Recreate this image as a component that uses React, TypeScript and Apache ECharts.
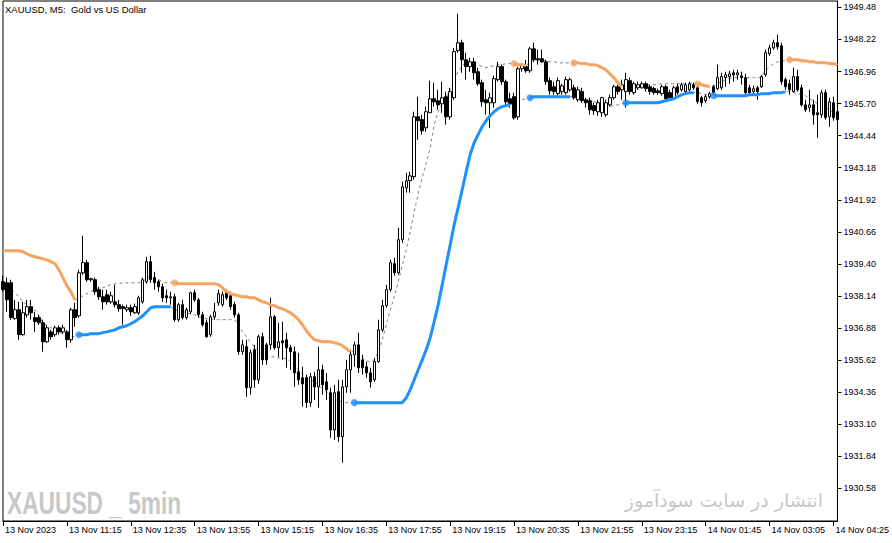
import React, { useEffect, useRef } from "react";
import * as echarts from "echarts";

// ---- Data (XAUUSD M5, 13 Nov 09:55 -> 14 Nov 04:30) ----
const opens = [
  1938.70, 1938.66, 1938.66, 1937.25, 1937.60, 1936.62, 1937.40, 1937.72, 1937.29, 1937.29,
  1937.09, 1936.34, 1936.73, 1936.62, 1936.89, 1936.73, 1936.73, 1936.42, 1937.60, 1937.36,
  1939.05, 1939.45, 1938.78, 1938.78, 1938.39, 1938.11, 1938.19, 1937.91, 1937.91, 1937.80,
  1937.72, 1937.60, 1937.68, 1937.48, 1937.48, 1937.91, 1938.70, 1939.49, 1938.86, 1938.70,
  1938.50, 1938.15, 1938.07, 1938.11, 1937.21, 1937.80, 1937.29, 1937.52, 1938.27, 1937.99,
  1937.40, 1937.09, 1936.62, 1937.32, 1937.87, 1937.80, 1938.27, 1938.15, 1937.80, 1937.40,
  1935.95, 1936.15, 1934.54, 1936.03, 1934.85, 1936.54, 1936.22, 1936.22, 1937.32, 1936.11,
  1936.38, 1936.42, 1936.11, 1935.95, 1935.16, 1934.93, 1934.93, 1933.95, 1934.97, 1934.57,
  1935.24, 1934.77, 1934.34, 1932.88, 1934.38, 1932.61, 1934.57, 1935.24, 1935.83, 1936.22,
  1935.63, 1935.36, 1935.12, 1934.85, 1935.56, 1936.81, 1937.76, 1938.39, 1939.41, 1939.05,
  1940.35, 1942.39, 1942.67, 1942.83, 1945.18, 1945.07, 1944.75, 1945.34, 1945.89, 1945.81,
  1945.69, 1945.97, 1945.18, 1945.93, 1947.78, 1948.09, 1947.42, 1947.15, 1947.34, 1946.95,
  1946.52, 1945.85, 1945.73, 1945.73, 1946.64, 1947.15, 1946.56, 1945.89, 1945.97, 1945.18,
  1947.07, 1947.15, 1946.99, 1947.85, 1947.46, 1947.46, 1947.34, 1946.60, 1946.36, 1946.09,
  1946.17, 1946.13, 1946.24, 1946.32, 1945.85, 1946.17, 1945.85, 1945.81, 1945.62, 1945.38,
  1945.34, 1945.26, 1945.65, 1945.93, 1946.36, 1946.24, 1946.17, 1946.60, 1946.13, 1946.32,
  1946.32, 1946.48, 1946.36, 1946.29, 1946.20, 1946.09, 1946.36, 1946.13, 1945.93, 1946.36,
  1946.24, 1946.17, 1946.24, 1946.44, 1946.32, 1945.93, 1945.81, 1945.97, 1946.36, 1946.28,
  1946.32, 1946.72, 1946.76, 1946.91, 1946.83, 1946.79, 1946.72, 1946.32, 1946.17, 1946.32,
  1946.36, 1946.83, 1947.66, 1947.89, 1948.09, 1947.97, 1946.64, 1946.48, 1946.17, 1946.76,
  1946.32, 1945.65, 1945.54, 1945.65, 1945.34, 1945.26, 1946.13, 1945.18, 1945.73, 1945.38,
];
const closes = [
  1938.39, 1937.99, 1937.29, 1937.60, 1936.62, 1937.48, 1937.72, 1937.48, 1937.13, 1937.09,
  1936.34, 1936.89, 1936.54, 1936.89, 1936.73, 1936.89, 1936.42, 1937.60, 1937.29, 1939.05,
  1939.45, 1938.78, 1938.82, 1938.31, 1938.11, 1937.91, 1937.91, 1938.15, 1937.80, 1937.64,
  1937.64, 1937.68, 1937.52, 1937.72, 1938.07, 1938.78, 1939.49, 1938.78, 1938.66, 1938.50,
  1938.07, 1938.07, 1938.11, 1937.21, 1937.80, 1937.29, 1937.60, 1938.27, 1937.99, 1937.40,
  1937.01, 1936.54, 1937.32, 1937.52, 1938.23, 1938.19, 1938.07, 1937.72, 1937.40, 1935.95,
  1936.22, 1934.54, 1935.91, 1934.85, 1936.54, 1935.63, 1935.63, 1937.32, 1936.11, 1936.34,
  1936.30, 1936.11, 1935.95, 1935.12, 1934.85, 1934.69, 1933.95, 1934.97, 1934.57, 1935.24,
  1934.65, 1934.46, 1932.88, 1934.34, 1932.61, 1934.57, 1935.24, 1935.83, 1936.22, 1935.32,
  1935.32, 1935.12, 1934.77, 1935.56, 1936.81, 1937.76, 1938.39, 1939.45, 1939.05, 1940.35,
  1942.43, 1942.67, 1942.86, 1945.18, 1945.03, 1944.63, 1945.38, 1945.89, 1945.77, 1945.65,
  1945.93, 1945.18, 1946.17, 1947.74, 1948.09, 1947.42, 1947.15, 1947.34, 1946.91, 1946.48,
  1945.77, 1945.73, 1945.93, 1946.68, 1947.15, 1946.56, 1945.77, 1945.69, 1945.14, 1947.07,
  1947.19, 1946.99, 1947.85, 1947.42, 1947.42, 1947.34, 1946.56, 1946.20, 1946.17, 1946.60,
  1946.40, 1946.64, 1946.64, 1945.93, 1946.24, 1945.81, 1945.73, 1945.46, 1945.42, 1945.73,
  1945.93, 1945.73, 1945.93, 1946.36, 1946.17, 1946.44, 1946.64, 1946.17, 1946.48, 1946.44,
  1946.48, 1946.29, 1946.17, 1946.13, 1946.13, 1946.36, 1945.89, 1945.93, 1946.32, 1946.13,
  1946.44, 1946.44, 1946.48, 1946.32, 1945.77, 1945.73, 1945.97, 1946.09, 1946.13, 1946.72,
  1946.76, 1946.83, 1946.87, 1946.83, 1946.91, 1946.72, 1946.13, 1946.13, 1946.28, 1946.17,
  1946.76, 1947.70, 1947.89, 1948.09, 1947.93, 1946.56, 1946.36, 1946.24, 1946.76, 1946.24,
  1945.65, 1945.46, 1945.65, 1945.26, 1945.26, 1946.13, 1945.14, 1945.77, 1945.14, 1945.07,
];
const highs = [
  1938.94, 1938.86, 1938.78, 1937.99, 1937.91, 1937.91, 1937.99, 1937.99, 1937.52, 1937.40,
  1937.21, 1937.01, 1936.81, 1936.97, 1936.97, 1937.01, 1936.81, 1937.68, 1937.87, 1939.17,
  1940.51, 1939.56, 1938.86, 1938.86, 1938.50, 1938.39, 1938.39, 1938.31, 1938.58, 1937.99,
  1937.80, 1937.80, 1937.80, 1937.84, 1938.15, 1938.86, 1939.68, 1939.72, 1939.09, 1938.78,
  1938.62, 1938.39, 1938.31, 1938.23, 1937.87, 1937.99, 1937.68, 1938.31, 1938.39, 1938.07,
  1937.52, 1937.21, 1937.40, 1937.87, 1938.39, 1938.31, 1938.39, 1938.31, 1937.91, 1937.48,
  1936.42, 1936.42, 1936.03, 1936.22, 1936.62, 1936.70, 1936.30, 1938.07, 1937.40, 1937.09,
  1937.13, 1936.70, 1936.22, 1936.15, 1935.91, 1935.36, 1935.05, 1935.12, 1935.16, 1936.15,
  1935.44, 1935.12, 1934.54, 1934.65, 1934.85, 1934.85, 1935.63, 1936.03, 1936.34, 1936.70,
  1935.83, 1935.56, 1935.32, 1935.71, 1937.21, 1937.99, 1938.58, 1939.56, 1939.64, 1940.82,
  1942.63, 1942.98, 1943.02, 1945.38, 1945.97, 1945.26, 1945.58, 1946.60, 1946.52, 1946.24,
  1946.56, 1946.17, 1946.32, 1947.89, 1949.23, 1948.21, 1947.70, 1947.50, 1947.50, 1947.11,
  1946.64, 1946.24, 1946.13, 1946.80, 1947.34, 1947.23, 1946.64, 1946.13, 1946.13, 1947.15,
  1947.27, 1947.42, 1947.93, 1948.09, 1947.82, 1947.82, 1947.42, 1946.72, 1946.56, 1946.72,
  1946.48, 1946.76, 1946.72, 1946.44, 1946.36, 1946.32, 1945.93, 1945.93, 1945.73, 1945.85,
  1945.97, 1945.85, 1946.05, 1946.44, 1946.44, 1946.64, 1946.91, 1946.72, 1946.56, 1946.56,
  1946.56, 1946.56, 1946.44, 1946.36, 1946.29, 1946.44, 1946.44, 1946.24, 1946.40, 1946.48,
  1946.52, 1946.52, 1946.56, 1946.52, 1946.40, 1946.01, 1946.05, 1946.17, 1946.44, 1947.23,
  1946.91, 1946.95, 1946.99, 1947.03, 1947.03, 1946.95, 1946.87, 1946.44, 1946.40, 1946.40,
  1946.83, 1947.82, 1948.01, 1948.21, 1948.41, 1948.09, 1946.72, 1946.64, 1947.11, 1947.03,
  1946.44, 1945.85, 1946.24, 1945.85, 1946.05, 1946.24, 1946.24, 1945.93, 1945.97, 1945.54,
];
const lows = [
  1938.31, 1937.52, 1937.21, 1937.21, 1936.42, 1936.58, 1937.29, 1937.21, 1936.73, 1937.01,
  1935.95, 1936.30, 1936.42, 1936.54, 1936.62, 1936.66, 1936.11, 1936.30, 1936.93, 1937.29,
  1938.98, 1938.70, 1938.70, 1938.19, 1937.99, 1937.60, 1937.80, 1937.84, 1937.68, 1937.52,
  1937.01, 1937.52, 1937.36, 1937.44, 1937.40, 1937.84, 1938.62, 1938.66, 1938.39, 1938.31,
  1937.91, 1937.87, 1937.80, 1937.13, 1937.13, 1937.21, 1937.21, 1937.44, 1937.91, 1937.29,
  1936.93, 1936.50, 1936.54, 1937.21, 1937.76, 1937.72, 1937.99, 1937.60, 1937.29, 1935.83,
  1935.83, 1934.18, 1934.26, 1934.54, 1934.69, 1935.44, 1935.44, 1936.03, 1936.03, 1935.75,
  1935.63, 1935.32, 1935.24, 1934.57, 1934.65, 1933.79, 1933.75, 1933.79, 1934.06, 1933.75,
  1934.26, 1934.06, 1932.57, 1932.49, 1932.41, 1931.59, 1934.34, 1934.34, 1935.36, 1935.12,
  1935.05, 1934.93, 1934.54, 1934.77, 1935.52, 1936.73, 1937.68, 1938.31, 1938.94, 1938.98,
  1940.23, 1942.20, 1942.20, 1942.71, 1944.28, 1944.48, 1944.59, 1945.34, 1945.58, 1945.46,
  1945.34, 1944.87, 1945.07, 1945.85, 1947.70, 1946.91, 1946.64, 1946.95, 1946.64, 1946.40,
  1945.58, 1945.26, 1944.75, 1945.54, 1946.56, 1946.44, 1945.65, 1945.54, 1945.07, 1945.07,
  1946.95, 1946.91, 1946.91, 1947.34, 1947.23, 1947.30, 1946.44, 1946.05, 1946.05, 1946.01,
  1946.05, 1946.05, 1946.17, 1945.85, 1945.77, 1945.73, 1945.54, 1945.26, 1945.26, 1945.22,
  1945.18, 1945.18, 1945.58, 1945.85, 1946.05, 1945.85, 1945.54, 1946.05, 1946.05, 1946.24,
  1946.29, 1946.17, 1946.05, 1946.05, 1946.05, 1946.01, 1945.81, 1945.85, 1945.85, 1946.05,
  1946.17, 1946.09, 1946.17, 1946.24, 1945.69, 1945.58, 1945.73, 1945.89, 1946.05, 1946.24,
  1946.24, 1946.36, 1946.48, 1946.56, 1946.64, 1946.44, 1946.05, 1946.05, 1946.05, 1945.85,
  1946.32, 1946.76, 1947.58, 1947.82, 1947.82, 1946.44, 1946.24, 1946.05, 1946.13, 1946.17,
  1945.58, 1945.38, 1945.38, 1944.87, 1944.36, 1945.14, 1945.07, 1944.79, 1945.03, 1944.99,
];
// Indicator bands (upper = resistance line, lower = support line)
const upperBand = [
  1939.92, 1939.92, 1939.92, 1939.92, 1939.92, 1939.88, 1939.80, 1939.72, 1939.68, 1939.64,
  1939.60, 1939.56, 1939.49, 1939.41, 1939.17, 1938.86, 1938.54, 1938.31, 1937.99, 1938.03,
  1938.15, 1938.23, 1938.31, 1938.39, 1938.42, 1938.46, 1938.54, 1938.58, 1938.62, 1938.62,
  1938.66, 1938.66, 1938.66, 1938.66, 1938.66, 1938.70, 1938.86, 1938.90, 1938.86, 1938.78,
  1938.70, 1938.66, 1938.66, 1938.66, 1938.62, 1938.62, 1938.62, 1938.62, 1938.62, 1938.62,
  1938.62, 1938.62, 1938.62, 1938.62, 1938.58, 1938.46, 1938.31, 1938.23, 1938.19, 1938.15,
  1938.11, 1938.11, 1938.07, 1938.07, 1937.99, 1937.91, 1937.87, 1937.80, 1937.76, 1937.68,
  1937.64, 1937.56, 1937.48, 1937.36, 1937.21, 1937.01, 1936.77, 1936.58, 1936.42, 1936.38,
  1936.34, 1936.34, 1936.34, 1936.30, 1936.26, 1936.19, 1936.07, 1935.95, 1935.95, 1935.83,
  1935.71, 1935.59, 1935.56, 1935.63, 1935.95, 1936.42, 1937.01, 1937.60, 1938.11, 1938.70,
  1939.33, 1939.96, 1940.66, 1941.45, 1942.16, 1942.79, 1943.38, 1943.96, 1944.87, 1945.38,
  1945.69, 1945.97, 1946.24, 1946.64, 1946.95, 1947.19, 1947.34, 1947.34, 1947.30, 1947.23,
  1947.15, 1947.11, 1947.15, 1947.19, 1947.23, 1947.23, 1947.27, 1947.27, 1947.27, 1947.23,
  1947.23, 1947.19, 1947.34, 1947.38, 1947.42, 1947.42, 1947.38, 1947.34, 1947.34, 1947.30,
  1947.30, 1947.30, 1947.30, 1947.30, 1947.30, 1947.27, 1947.27, 1947.23, 1947.23, 1947.19,
  1947.11, 1947.03, 1946.87, 1946.72, 1946.52, 1946.36, 1946.40, 1946.40, 1946.40, 1946.40,
  1946.44, 1946.44, 1946.44, 1946.44, 1946.44, 1946.48, 1946.48, 1946.48, 1946.48, 1946.48,
  1946.48, 1946.48, 1946.48, 1946.48, 1946.48, 1946.44, 1946.40, 1946.36, 1946.40, 1946.48,
  1946.56, 1946.64, 1946.68, 1946.72, 1946.72, 1946.72, 1946.72, 1946.72, 1946.72, 1946.68,
  1946.79, 1946.99, 1947.15, 1947.27, 1947.34, 1947.38, 1947.38, 1947.42, 1947.42, 1947.42,
  1947.38, 1947.38, 1947.34, 1947.34, 1947.30, 1947.30, 1947.30, 1947.27, 1947.27, 1947.23,
];
const lowerBand = [
  1938.70, 1938.54, 1938.42, 1938.27, 1938.11, 1937.91, 1937.80, 1937.68, 1937.60, 1937.36,
  1937.09, 1936.97, 1936.89, 1936.81, 1936.73, 1936.66, 1936.58, 1936.54, 1936.54, 1936.62,
  1936.62, 1936.62, 1936.66, 1936.66, 1936.66, 1936.70, 1936.73, 1936.77, 1936.81, 1936.89,
  1936.93, 1936.97, 1937.05, 1937.13, 1937.25, 1937.36, 1937.52, 1937.68, 1937.72, 1937.72,
  1937.72, 1937.72, 1937.72, 1937.60, 1937.56, 1937.52, 1937.48, 1937.44, 1937.40, 1937.32,
  1937.29, 1937.25, 1937.25, 1937.21, 1937.21, 1937.21, 1937.21, 1937.21, 1937.21, 1936.97,
  1936.73, 1936.54, 1936.30, 1936.15, 1935.99, 1935.83, 1935.79, 1935.75, 1935.75, 1935.71,
  1935.71, 1935.67, 1935.59, 1935.44, 1935.24, 1935.08, 1934.97, 1934.85, 1934.77, 1934.65,
  1934.50, 1934.38, 1934.22, 1934.10, 1934.02, 1933.98, 1933.95, 1933.95, 1933.95, 1933.95,
  1933.95, 1933.95, 1933.95, 1933.95, 1933.95, 1933.95, 1933.95, 1933.95, 1933.95, 1933.95,
  1933.95, 1934.14, 1934.46, 1934.85, 1935.24, 1935.63, 1936.03, 1936.50, 1937.13, 1937.80,
  1938.58, 1939.37, 1940.15, 1940.94, 1941.61, 1942.31, 1943.02, 1943.69, 1944.16, 1944.48,
  1944.79, 1945.03, 1945.22, 1945.38, 1945.50, 1945.58, 1945.62, 1945.65, 1945.69, 1945.77,
  1945.85, 1945.89, 1945.93, 1945.97, 1945.97, 1945.97, 1945.97, 1945.97, 1945.97, 1945.97,
  1945.97, 1945.97, 1945.97, 1945.97, 1945.93, 1945.89, 1945.85, 1945.81, 1945.77, 1945.73,
  1945.69, 1945.62, 1945.58, 1945.62, 1945.65, 1945.69, 1945.73, 1945.73, 1945.73, 1945.73,
  1945.73, 1945.73, 1945.73, 1945.73, 1945.73, 1945.77, 1945.81, 1945.85, 1945.89, 1945.97,
  1946.05, 1946.09, 1946.13, 1946.13, 1946.13, 1946.09, 1946.05, 1946.01, 1946.01, 1946.01,
  1946.01, 1946.01, 1946.01, 1946.01, 1946.01, 1946.01, 1946.01, 1946.05, 1946.05, 1946.05,
  1946.09, 1946.09, 1946.09, 1946.13, 1946.13, 1946.13, 1946.17, 1946.17, 1946.13, 1946.09,
  1946.05, 1946.01, 1945.89, 1945.81, 1945.69, 1945.62, 1945.54, 1945.46, 1945.34, 1945.26,
];
// Trend segments: first bar index of each segment and direction (-1 = down, 1 = up)
const trendStarts = [0, 19, 43, 88, 128, 132, 143, 156, 174, 178, 197];
const trendDirs = [-1, 1, -1, 1, -1, 1, -1, 1, -1, 1, -1];

// Axis ticks / labels
const priceTicks = [
  1930.58, 1931.84, 1933.1, 1934.36, 1935.62, 1936.88, 1938.14, 1939.4,
  1940.66, 1941.92, 1943.18, 1944.44, 1945.7, 1946.96, 1948.22, 1949.48,
];
const Y_MIN = 1929.3;
const Y_MAX = 1949.73;
const sessions = [
  { day: "13 Nov", startMinute: 9 * 60 + 55, bars: 169 },
  { day: "14 Nov", startMinute: 1 * 60 + 10, bars: 41 },
];
const firstLabel = "13 Nov 2023";
const labelEvery = 16;
const titleText = "XAUUSD, M5:  Gold vs US Dollar";
const watermarkLeft = "XAUUSD _ 5min";
const watermarkRight = "انتشار در سایت سودآموز";

const ORANGE = "#F4A460";
const BLUE = "#1E90FF";

function pad(n: number) {
  return n < 10 ? "0" + n : String(n);
}

export default function App() {
  const ref = useRef<HTMLDivElement>(null);

  useEffect(() => {
    if (!ref.current) return;
    const chart = echarts.init(ref.current, null, { renderer: "svg" });

    const times: string[] = [];
    sessions.forEach((s) => {
      for (let k = 0; k < s.bars; k++) {
        const m = s.startMinute + 5 * k;
        times.push(`${s.day} ${pad(Math.floor(m / 60) % 24)}:${pad(m % 60)}`);
      }
    });

    const n = opens.length;
    const dir: number[] = new Array(n).fill(0);
    trendStarts.forEach((s, k) => {
      const e = k + 1 < trendStarts.length ? trendStarts[k + 1] : n;
      for (let i = s; i < e; i++) dir[i] = trendDirs[k];
    });

    const candles = opens.map((o, i) => [o, closes[i], lows[i], highs[i]]);
    const orangeLine = upperBand.map((v, i) => (dir[i] === -1 ? v : null));
    const blueLine = lowerBand.map((v, i) => (dir[i] === 1 ? v : null));
    const orangeDots: number[][] = [];
    const blueDots: number[][] = [];
    trendStarts.forEach((s, k) => {
      if (s === 0) return;
      if (trendDirs[k] === -1) orangeDots.push([s, upperBand[s]]);
      else blueDots.push([s, lowerBand[s]]);
    });

    const axisFont = { color: "#000", fontFamily: "Liberation Sans", fontSize: 9 };
    const showEvery = (i: number) => i % labelEvery === 0;

    chart.setOption({
      animation: false,
      backgroundColor: "#ffffff",
      grid: {
        left: 3,
        right: 53,
        top: 1,
        bottom: 22,
        show: true,
        borderColor: "#000",
        borderWidth: 1,
      },
      xAxis: {
        type: "category",
        data: times,
        boundaryGap: false,
        axisLine: { show: true, lineStyle: { color: "#000", width: 1 } },
        axisTick: {
          show: true,
          interval: showEvery,
          length: 5,
          lineStyle: { color: "#000" },
        },
        axisLabel: {
          ...axisFont,
          interval: showEvery,
          formatter: (v: string, i: number) => (i === 0 ? firstLabel : v),
          align: "left",
          margin: 4,
          padding: [0, 0, 0, 2],
        },
        splitLine: { show: false },
      },
      yAxis: {
        type: "value",
        position: "right",
        min: Y_MIN,
        max: Y_MAX,
        axisLine: { show: true, lineStyle: { color: "#000", width: 1 } },
        axisTick: {
          show: true,
          length: 4,
          customValues: priceTicks,
          lineStyle: { color: "#000" },
        },
        axisLabel: {
          ...axisFont,
          customValues: priceTicks,
          formatter: (v: number) => v.toFixed(2),
          margin: 6,
        },
        splitLine: { show: false },
      },
      graphic: [
        {
          type: "text",
          left: 5,
          top: 4,
          z: 10,
          style: {
            text: titleText,
            font: '9.5px "Liberation Sans"',
            fill: "#000",
          },
        },
        {
          type: "text",
          x: 7,
          y: 503,
          scaleX: 0.71,
          z: 0,
          style: {
            text: watermarkLeft,
            font: 'bold 32px "Liberation Sans"',
            fill: "#c8c8c8",
            verticalAlign: "middle",
          },
        },
        {
          type: "text",
          x: 823,
          y: 500,
          z: 0,
          style: {
            text: watermarkRight,
            font: '19px "DejaVu Sans"',
            fill: "#c8c8c8",
            align: "right",
            verticalAlign: "middle",
          },
        },
      ],
      series: [
        {
          type: "line",
          data: upperBand,
          symbol: "none",
          z: 2,
          lineStyle: { color: "#808080", width: 1, type: [3, 3] },
        },
        {
          type: "line",
          data: lowerBand,
          symbol: "none",
          z: 2,
          lineStyle: { color: "#808080", width: 1, type: [3, 3] },
        },
        {
          type: "candlestick",
          data: candles,
          barWidth: 3,
          z: 3,
          itemStyle: {
            color: "#ffffff",
            color0: "#000000",
            borderColor: "#000000",
            borderColor0: "#000000",
            borderColorDoji: "#000000",
            borderWidth: 1,
          },
        },
        {
          type: "line",
          data: orangeLine,
          symbol: "none",
          z: 4,
          lineStyle: { color: ORANGE, width: 3 },
        },
        {
          type: "line",
          data: blueLine,
          symbol: "none",
          z: 4,
          lineStyle: { color: BLUE, width: 3 },
        },
        {
          type: "scatter",
          data: orangeDots,
          symbolSize: 7,
          z: 5,
          itemStyle: { color: ORANGE },
        },
        {
          type: "scatter",
          data: blueDots,
          symbolSize: 7,
          z: 5,
          itemStyle: { color: BLUE },
        },
      ],
    });

    return () => chart.dispose();
  }, []);

  return (
    <div
      ref={ref}
      style={{
        position: "fixed",
        left: 0,
        top: 0,
        width: 892,
        height: 543,
        background: "#fff",
      }}
    />
  );
}
